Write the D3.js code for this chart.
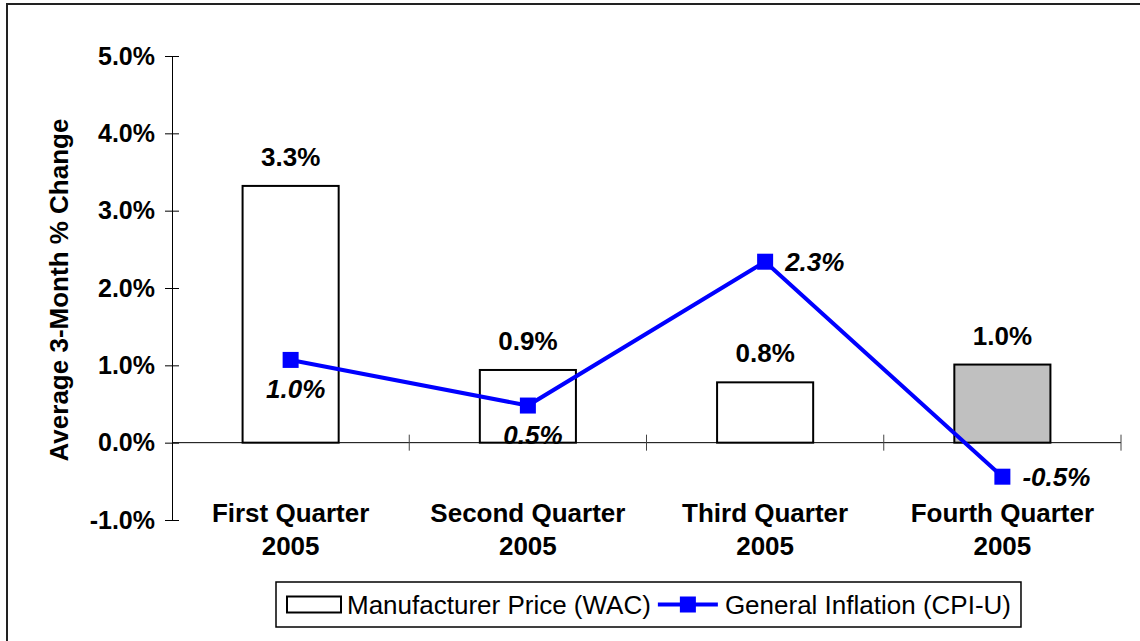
<!DOCTYPE html>
<html>
<head>
<meta charset="utf-8">
<script src="https://cdn.jsdelivr.net/npm/d3@7"></script>
<style>
  body { margin: 0; background: #fff; }
  text { font-family: Arial, "Liberation Sans", sans-serif; }
</style>
</head>
<body>
<div id="chart"></div>
<script>
// quarters and values (percent)
const quarters = [["First Quarter", "2005"], ["Second Quarter", "2005"], ["Third Quarter", "2005"], ["Fourth Quarter", "2005"]];
const wacValues = [3.32, 0.94, 0.78, 1.01];
const wacLabels = ["3.3%", "0.9%", "0.8%", "1.0%"];
const barFills = ["#ffffff", "#ffffff", "#ffffff", "#c0c0c0"];
const cpiValues = [1.07, 0.48, 2.34, -0.44];
const cpiLabels = ["1.0%", "0.5%", "2.3%", "-0.5%"];
const cpiLabelSide = ["below", "below", "right", "right"];
const yTicks = [-1, 0, 1, 2, 3, 4, 5];
const legendNames = ["Manufacturer Price (WAC)", "General Inflation (CPI-U)"];

const width = 1140, height = 641;

const svg = d3.select("#chart")
  .append("svg")
    .attr("width", width)
    .attr("height", height);

// outer frame, its right and bottom edges are cut off in the picture
svg.append("rect")
  .attr("x", 7).attr("y", 4)
  .attr("width", 1300).attr("height", 800)
  .attr("fill", "#fff")
  .attr("stroke", "#222")
  .attr("stroke-width", 2);

var x = d3.scaleBand()
  .domain(d3.range(quarters.length))
  .range([172, 1121])
  .padding(0);

var y = d3.scaleLinear()
  .domain([-1, 5])
  .range([520, 56]);

// Y axis, ticks cross the line
var yAxis = svg.append("g")
  .attr("transform", "translate(172,0)")
  .call(d3.axisLeft(y)
    .tickValues(yTicks)
    .tickSize(7)
    .tickSizeOuter(0)
    .tickPadding(10)
    .tickFormat(d => d.toFixed(1) + "%"));

yAxis.selectAll(".tick").append("line")
  .attr("x1", 0).attr("x2", 7)
  .attr("stroke", "currentColor");

yAxis.selectAll("text")
  .style("font-size", "25px")
  .style("font-weight", "bold")
  .style("font-family", "Arial, 'Liberation Sans', sans-serif")
  .attr("fill", "#000");

// X axis along zero with ticks between the quarters
svg.append("line")
  .attr("x1", x.range()[0]).attr("x2", x.range()[1])
  .attr("y1", y(0)).attr("y2", y(0))
  .attr("stroke", "#000");

svg.append("g")
  .selectAll("line")
  .data(d3.range(1, quarters.length + 1))
  .enter()
  .append("line")
    .attr("x1", d => x.range()[0] + d * x.step())
    .attr("x2", d => x.range()[0] + d * x.step())
    .attr("y1", y(0) - 8)
    .attr("y2", y(0) + 8)
    .attr("stroke", "#444");

// quarter labels
var cat = svg.append("g")
  .selectAll("text")
  .data(quarters)
  .enter()
  .append("text")
    .attr("x", (d, i) => x(i) + x.bandwidth() / 2)
    .attr("y", 522)
    .attr("text-anchor", "middle")
    .style("font-size", "26px")
    .style("font-weight", "bold");

cat.append("tspan")
  .attr("x", (d, i) => x(i) + x.bandwidth() / 2)
  .text(d => d[0]);
cat.append("tspan")
  .attr("x", (d, i) => x(i) + x.bandwidth() / 2)
  .attr("dy", 33)
  .text(d => d[1]);

// y axis title
svg.append("text")
  .attr("transform", "translate(68,290) rotate(-90)")
  .attr("text-anchor", "middle")
  .style("font-size", "26px")
  .style("font-weight", "bold")
  .text("Average 3-Month % Change");

// bars
var barW = x.bandwidth() * 0.405;
svg.append("g")
  .selectAll("rect")
  .data(wacValues)
  .enter()
  .append("rect")
    .attr("x", (d, i) => x(i) + x.bandwidth() / 2 - barW / 2)
    .attr("y", d => y(Math.max(d, 0)))
    .attr("width", barW)
    .attr("height", d => Math.abs(y(d) - y(0)))
    .attr("fill", (d, i) => barFills[i])
    .attr("stroke", "#000")
    .attr("stroke-width", 2);

svg.append("g")
  .selectAll("text")
  .data(wacValues)
  .enter()
  .append("text")
    .attr("x", (d, i) => x(i) + x.bandwidth() / 2)
    .attr("y", d => y(d) - 20)
    .attr("text-anchor", "middle")
    .style("font-size", "26px")
    .style("font-weight", "bold")
    .text((d, i) => wacLabels[i]);

// inflation line
var line = d3.line()
  .x((d, i) => x(i) + x.bandwidth() / 2)
  .y(d => y(d));

svg.append("path")
  .datum(cpiValues)
  .attr("d", line)
  .attr("fill", "none")
  .attr("stroke", "#0000ff")
  .attr("stroke-width", 4);

svg.append("g")
  .selectAll("rect")
  .data(cpiValues)
  .enter()
  .append("rect")
    .attr("x", (d, i) => x(i) + x.bandwidth() / 2 - 8)
    .attr("y", d => y(d) - 8)
    .attr("width", 16)
    .attr("height", 16)
    .attr("fill", "#0000ff");

svg.append("g")
  .selectAll("text")
  .data(cpiValues)
  .enter()
  .append("text")
    .attr("x", (d, i) => x(i) + x.bandwidth() / 2 + (cpiLabelSide[i] == "right" ? 20 : 5))
    .attr("y", (d, i) => y(d) + (cpiLabelSide[i] == "right" ? 9 : 38))
    .attr("text-anchor", (d, i) => cpiLabelSide[i] == "right" ? "start" : "middle")
    .style("font-size", "26px")
    .style("font-weight", "bold")
    .style("font-style", "italic")
    .text((d, i) => cpiLabels[i]);

// legend
var lg = svg.append("g");
var box = lg.append("rect")
  .attr("x", 276).attr("y", 582)
  .attr("height", 45)
  .attr("fill", "#fff")
  .attr("stroke", "#000")
  .attr("stroke-width", 1.5);

var cy = 604.5;
var cx = 287;
lg.append("rect")
  .attr("x", cx).attr("y", cy - 8)
  .attr("width", 54).attr("height", 16)
  .attr("fill", "#fff")
  .attr("stroke", "#000")
  .attr("stroke-width", 2);
cx += 60;
var t1 = lg.append("text")
  .attr("x", cx).attr("y", cy + 9)
  .style("font-size", "26px")
  .text(legendNames[0]);
cx += t1.node().getComputedTextLength() + 7;
lg.append("line")
  .attr("x1", cx).attr("x2", cx + 60)
  .attr("y1", cy).attr("y2", cy)
  .attr("stroke", "#0000ff")
  .attr("stroke-width", 4);
lg.append("rect")
  .attr("x", cx + 30 - 8).attr("y", cy - 8)
  .attr("width", 16).attr("height", 16)
  .attr("fill", "#0000ff");
cx += 67;
var t2 = lg.append("text")
  .attr("x", cx).attr("y", cy + 9)
  .style("font-size", "26px")
  .text(legendNames[1]);
cx += t2.node().getComputedTextLength() + 10;
box.attr("width", cx - 276);
</script>
</body>
</html>
